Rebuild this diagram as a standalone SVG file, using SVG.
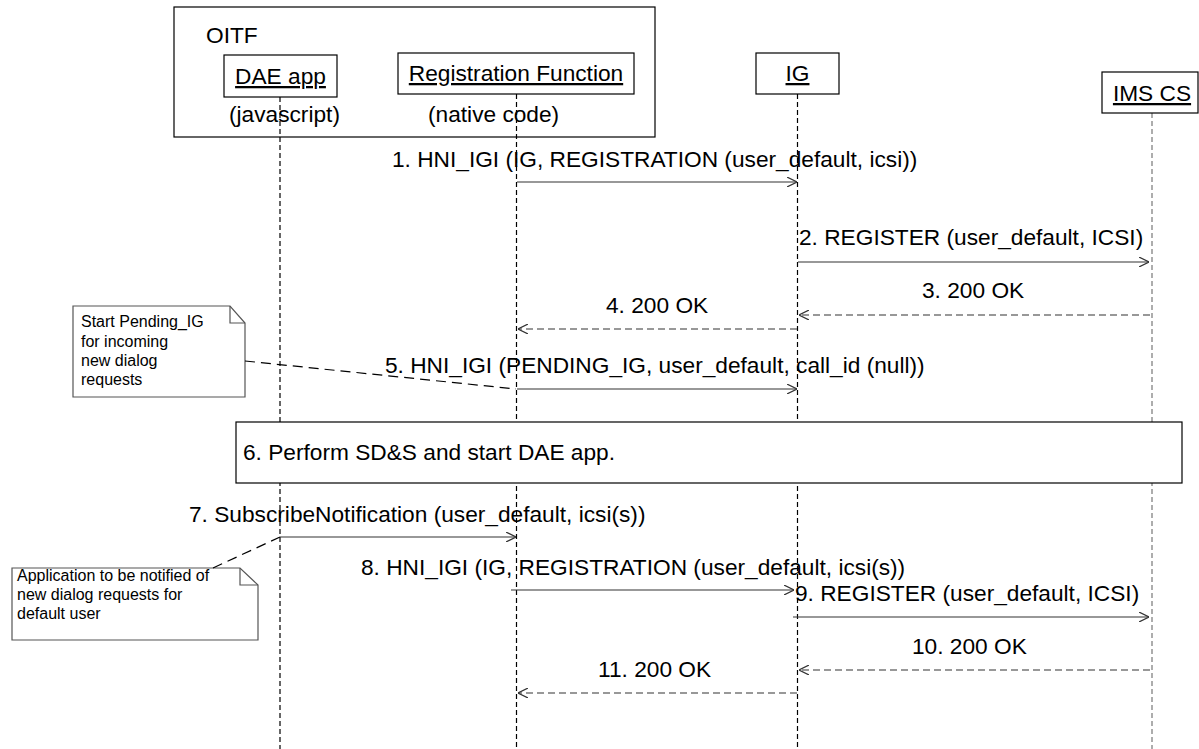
<svg xmlns="http://www.w3.org/2000/svg" width="1199" height="749" viewBox="0 0 1199 749">
<style>
text{font-family:"Liberation Sans",Arial,sans-serif;fill:#000}
.t{font-size:22.7px}
.n{font-size:16px}
.box{fill:#fff;stroke:#000;stroke-width:1.2}
.life{stroke:#000;stroke-width:1.2;stroke-dasharray:5 3;fill:none}
.lifeg{stroke:#777;stroke-width:1.2;stroke-dasharray:5 3;fill:none}
.msg{stroke:#333;stroke-width:1.2;fill:none;marker-end:url(#ah)}
.ret{stroke:#333;stroke-width:1.2;fill:none;stroke-dasharray:7 4;marker-end:url(#ah)}
.note{fill:#fff;stroke:#555;stroke-width:1.2}
.nl{stroke:#000;stroke-width:1.2;stroke-dasharray:10 6;fill:none}
</style>
<defs>
<marker id="ah" viewBox="0 0 10 10" refX="10" refY="5" markerWidth="10" markerHeight="10" markerUnits="userSpaceOnUse" orient="auto">
<path d="M0,0 L10,5 L0,10" fill="none" stroke="#333" stroke-width="1.2"/>
</marker>
</defs>
<rect width="1199" height="749" fill="#fff"/>

<g id="oitf">
<rect x="174" y="7" width="481" height="130" fill="none" stroke="#000" stroke-width="1.2"/>
<text class="t" x="206" y="43">OITF</text>
</g>

<g id="lifelines">
<line class="life" x1="280" y1="97" x2="280" y2="749"/>
<line class="life" x1="516.5" y1="94" x2="516.5" y2="749"/>
<line class="life" x1="797.5" y1="94" x2="797.5" y2="749"/>
<line class="lifeg" x1="1152" y1="113" x2="1152" y2="749"/>
</g>

<g id="dae">
<rect class="box" x="224" y="55" width="113" height="42"/>
<text class="t" x="280.5" y="84" text-anchor="middle" text-decoration="underline">DAE app</text>
<text class="t" x="229" y="122">(javascript)</text>
</g>

<g id="regfn">
<rect class="box" x="398" y="53" width="236" height="41"/>
<text class="t" x="516" y="81" text-anchor="middle" text-decoration="underline">Registration Function</text>
<text class="t" x="428" y="122">(native code)</text>
</g>

<g id="ig">
<rect class="box" x="756" y="53" width="83" height="41"/>
<text class="t" x="797.5" y="81" text-anchor="middle" text-decoration="underline">IG</text>
</g>

<g id="imscs">
<rect class="box" x="1102" y="72" width="96" height="41"/>
<text class="t" x="1152" y="101" text-anchor="middle" text-decoration="underline">IMS CS</text>
</g>

<g id="step6">
<rect class="box" x="236" y="422" width="946" height="61"/>
<text class="t" x="243" y="460">6. Perform SD&amp;S and start DAE app.</text>
</g>

<g id="note1">
<path class="note" d="M73,306 L230,306 L245,323 L245,397 L73,397 Z"/>
<path d="M230,306 L230,323 L245,323" fill="none" stroke="#555" stroke-width="1.2"/>
<text class="n" x="81" y="327">Start Pending_IG</text>
<text class="n" x="81" y="347">for incoming</text>
<text class="n" x="81" y="366">new dialog</text>
<text class="n" x="81" y="385">requests</text>
</g>

<g id="note2">
<path class="note" d="M12,568 L240,568 L258,585 L258,640 L12,640 Z"/>
<path d="M240,568 L240,585 L258,585" fill="none" stroke="#555" stroke-width="1.2"/>
<text class="n" x="17" y="581">Application to be notified of</text>
<text class="n" x="17" y="600">new dialog requests for</text>
<text class="n" x="17" y="619">default user</text>
</g>

<g id="connectors">
<line class="msg" x1="517" y1="182" x2="797" y2="182"/>
<line class="msg" x1="798" y1="262" x2="1149" y2="262"/>
<line class="ret" x1="1150" y1="315" x2="799" y2="315"/>
<line class="ret" x1="797" y1="329" x2="518" y2="329"/>
<line class="msg" x1="517" y1="389" x2="797" y2="389"/>
<line class="msg" x1="280" y1="537" x2="516" y2="537"/>
<line class="msg" x1="511" y1="590" x2="794" y2="590"/>
<line class="msg" x1="793" y1="617" x2="1149" y2="617"/>
<line class="ret" x1="1150" y1="670" x2="799" y2="670"/>
<line class="ret" x1="797" y1="693" x2="518" y2="693"/>
<line class="nl" x1="245" y1="361" x2="516" y2="389"/>
<line class="nl" x1="213" y1="568" x2="280" y2="537"/>
</g>

<g id="labels">
<text class="t" x="392" y="167">1. HNI_IGI (IG, REGISTRATION (user_default, icsi))</text>
<text class="t" x="799" y="245">2. REGISTER (user_default, ICSI)</text>
<text class="t" x="922" y="298">3. 200 OK</text>
<text class="t" x="606" y="313">4. 200 OK</text>
<text class="t" x="385" y="373">5. HNI_IGI (PENDING_IG, user_default, call_id (null))</text>
<text class="t" x="189" y="522">7. SubscribeNotification (user_default, icsi(s))</text>
<text class="t" x="361" y="575">8. HNI_IGI (IG, REGISTRATION (user_default, icsi(s))</text>
<text class="t" x="795" y="601">9. REGISTER (user_default, ICSI)</text>
<text class="t" x="912" y="654">10. 200 OK</text>
<text class="t" x="598" y="677">11. 200 OK</text>
</g>
</svg>
